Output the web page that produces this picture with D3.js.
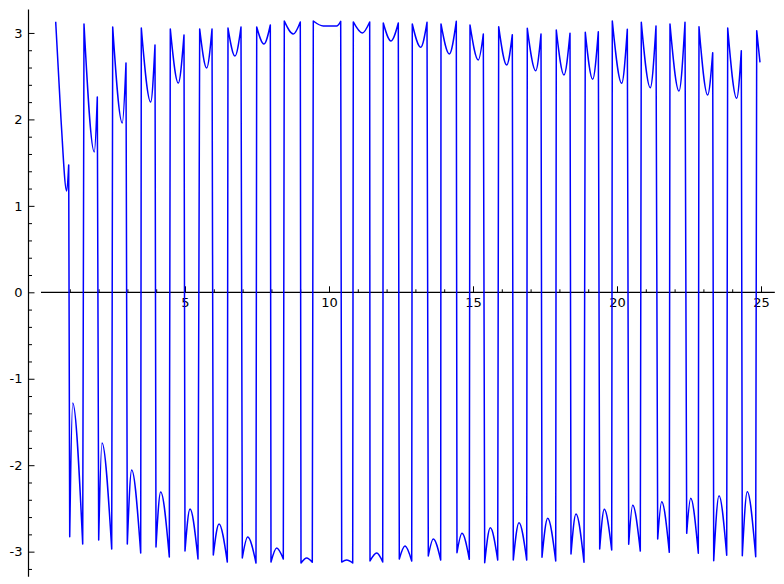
<!DOCTYPE html>
<html>
<head>
<meta charset="utf-8">
<script src="https://cdn.jsdelivr.net/npm/d3@7"></script>
<style>
  html, body { margin: 0; padding: 0; background: #fff; }
  svg { display: block; }
  text { font-family: "DejaVu Sans", sans-serif; font-size: 13px; fill: #000; }
</style>
</head>
<body>
<script>
// ---- data (x, phase value) ----
// upper arcs: start near +pi, dip to a minimum, rise to end
const upperArcs = [
  [[0.510, 3.130], [0.694, 2.005], [0.892, 1.172], [0.962, 1.473]],
  [[1.493, 3.104], [1.851, 1.623], [1.955, 2.259]],
  [[2.490, 3.069], [2.823, 1.958], [2.951, 2.652]],
  [[3.483, 3.057], [3.809, 2.201], [3.958, 2.861]],
  [[4.490, 3.046], [4.767, 2.421], [4.965, 2.976]],
  [[5.510, 3.046], [5.753, 2.595], [5.938, 3.046]],
  [[6.493, 3.057], [6.736, 2.733], [6.944, 3.069]],
  [[7.490, 3.069], [7.743, 2.872], [7.962, 3.092]],
  [[8.448, 3.138], [8.760, 2.988], [9.003, 3.127]],
  [[9.455, 3.138], [9.802, 3.080], [10.267, 3.080], [10.406, 3.135]],
  [[10.844, 3.127], [11.156, 3.000], [11.413, 3.127]],
  [[11.885, 3.115], [12.153, 2.907], [12.406, 3.115]],
  [[12.892, 3.104], [13.184, 2.834], [13.403, 3.123]],
  [[13.889, 3.104], [14.177, 2.756], [14.420, 3.135]],
  [[14.896, 3.092], [15.184, 2.687], [15.358, 2.988]],
  [[15.892, 3.072], [16.170, 2.629], [16.365, 2.980]],
  [[16.885, 3.054], [17.177, 2.563], [17.361, 2.988]],
  [[17.892, 3.034], [18.160, 2.514], [18.368, 2.996]],
  [[18.899, 3.007], [19.156, 2.464], [19.351, 3.014]],
  [[19.837, 3.138], [20.163, 2.418], [20.358, 3.042]],
  [[20.844, 3.123], [21.156, 2.367], [21.354, 3.080]],
  [[21.840, 3.104], [22.153, 2.328], [22.361, 3.123]],
  [[22.847, 3.072], [23.149, 2.282], [23.323, 2.772]],
  [[23.844, 3.057], [24.156, 2.244], [24.316, 2.795]],
  [[24.851, 3.026], [24.965, 2.660]]
];
// lower arcs: start near -pi, rise to a maximum, fall to end
const lowerArcs = [
  [[0.997, -2.827], [1.101, -1.280], [1.448, -2.911]],
  [[2.003, -2.865], [2.118, -1.743], [2.455, -2.969]],
  [[2.997, -2.911], [3.149, -2.056], [3.462, -3.016]],
  [[3.993, -2.946], [4.156, -2.310], [4.455, -3.062]],
  [[5.000, -2.993], [5.174, -2.507], [5.451, -3.085]],
  [[5.983, -3.039], [6.181, -2.680], [6.469, -3.120]],
  [[6.990, -3.073], [7.177, -2.831], [7.465, -3.131]],
  [[7.986, -3.120], [8.184, -2.958], [8.413, -3.085]],
  [[9.028, -3.131], [9.226, -3.073], [9.420, -3.123]],
  [[10.441, -3.120], [10.615, -3.097], [10.823, -3.131]],
  [[11.424, -3.108], [11.656, -3.016], [11.865, -3.120]],
  [[12.441, -3.085], [12.639, -2.935], [12.872, -3.108]],
  [[13.448, -3.050], [13.622, -2.854], [13.878, -3.097]],
  [[14.444, -3.012], [14.618, -2.788], [14.872, -3.088]],
  [[15.406, -3.128], [15.601, -2.723], [15.858, -3.097]],
  [[16.399, -3.097], [16.597, -2.665], [16.865, -3.097]],
  [[17.396, -3.065], [17.594, -2.614], [17.872, -3.108]],
  [[18.403, -3.027], [18.576, -2.565], [18.854, -3.123]],
  [[19.399, -2.969], [19.559, -2.510], [19.816, -2.981]],
  [[20.406, -2.915], [20.545, -2.464], [20.809, -2.993]],
  [[21.413, -2.854], [21.552, -2.422], [21.816, -3.008]],
  [[22.420, -2.788], [22.559, -2.383], [22.823, -3.019]],
  [[23.358, -3.105], [23.542, -2.353], [23.809, -3.042]],
  [[24.351, -3.047], [24.524, -2.307], [24.816, -3.058]]
];
const xMajorTicks = [5, 10, 15, 20, 25];
const xTickLabels = ["5", "10", "15", "20", "25"];
const xMinorTicks = [1, 2, 3, 4, 6, 7, 8, 9, 11, 12, 13, 14, 16, 17, 18, 19, 21, 22, 23, 24];
const yMajorTicks = [-3, -2, -1, 0, 1, 2, 3];
const yTickLabels = ["-3", "-2", "-1", "0", "1", "2", "3"];
const yMinorTicks = [-3.2, -2.8, -2.6, -2.4, -2.2, -1.8, -1.6, -1.4, -1.2, -0.8, -0.6, -0.4, -0.2,
                     0.2, 0.4, 0.6, 0.8, 1.2, 1.4, 1.6, 1.8, 2.2, 2.4, 2.6, 2.8];

// ---- layout ----
const W = 784, H = 584;
const x = d3.scaleLinear().domain([0, 25]).range([41, 761]);
const y = d3.scaleLinear().domain([-3, 3]).range([551.65, 32.95]);
const yAxisX = 28.5;          // pixel position of the vertical axis
const xAxisEnd = 25.48;       // data x where horizontal axis ends
const yAxisTop = 3.27, yAxisBottom = -3.29;

const svg = d3.select("body").append("svg").attr("width", W).attr("height", H);

// ---- axes ----
const axisColor = "#000";
// horizontal axis line at y = 0
svg.append("line")
  .attr("x1", x(0)).attr("x2", x(xAxisEnd))
  .attr("y1", y(0)).attr("y2", y(0))
  .attr("stroke", axisColor).attr("stroke-width", 1.2);
// vertical axis line
svg.append("line")
  .attr("x1", yAxisX).attr("x2", yAxisX)
  .attr("y1", y(yAxisTop)).attr("y2", y(yAxisBottom))
  .attr("stroke", axisColor).attr("stroke-width", 1.2);

function styleTicks(g) {
  g.select(".domain").remove();
  g.selectAll(".tick line").attr("stroke", axisColor).attr("stroke-width", 1);
}

// x ticks pointing up
svg.append("g").attr("transform", `translate(0,${y(0)})`)
  .call(d3.axisTop(x).tickValues(xMajorTicks).tickSize(6).tickFormat(""))
  .call(styleTicks);
svg.append("g").attr("transform", `translate(0,${y(0)})`)
  .call(d3.axisTop(x).tickValues(xMinorTicks).tickSize(3).tickFormat(""))
  .call(styleTicks);
// x labels below
svg.append("g").attr("transform", `translate(0,${y(0)})`)
  .call(d3.axisBottom(x).tickValues(xMajorTicks).tickSize(0).tickPadding(5.5)
        .tickFormat((d, i) => xTickLabels[i]))
  .call(g => { g.select(".domain").remove(); g.selectAll("text").attr("fill", "#000")
        .style("font-family", "DejaVu Sans").style("font-size", "13px"); });

// y ticks pointing right
svg.append("g").attr("transform", `translate(${yAxisX},0)`)
  .call(d3.axisRight(y).tickValues(yMajorTicks).tickSize(6).tickFormat(""))
  .call(styleTicks);
svg.append("g").attr("transform", `translate(${yAxisX},0)`)
  .call(d3.axisRight(y).tickValues(yMinorTicks).tickSize(3.5).tickFormat(""))
  .call(styleTicks);
// y labels on the left
svg.append("g").attr("transform", `translate(${yAxisX},0)`)
  .call(d3.axisLeft(y).tickValues(yMajorTicks).tickSize(0).tickPadding(6)
        .tickFormat((d, i) => yTickLabels[i]))
  .call(g => { g.select(".domain").remove(); g.selectAll("text").attr("fill", "#000")
        .style("font-family", "DejaVu Sans").style("font-size", "13px"); });

// ---- curve ----
const pieces = upperArcs.concat(lowerArcs).sort((a, b) => a[0][0] - b[0][0]);
const p = d3.path();
let started = false;
const ctx = {
  moveTo(px, py) { if (started) p.lineTo(px, py); else { p.moveTo(px, py); started = true; } },
  lineTo(px, py) { p.lineTo(px, py); },
  bezierCurveTo(a, b, c, d, e, f) { p.bezierCurveTo(a, b, c, d, e, f); },
  closePath() {}
};
const gen = d3.line().x(d => x(d[0])).y(d => y(d[1])).curve(d3.curveMonotoneX).context(ctx);
pieces.forEach(pc => gen(pc));

svg.append("path")
  .attr("d", p.toString())
  .attr("fill", "none")
  .attr("stroke", "#0000ff")
  .attr("stroke-width", 1.5)
  .attr("stroke-linejoin", "round")
  .attr("stroke-linecap", "butt");
</script>
</body>
</html>
